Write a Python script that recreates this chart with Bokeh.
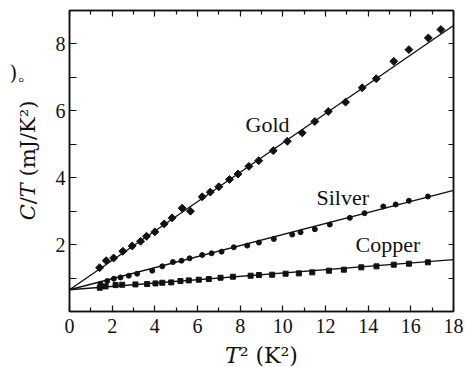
import math
from bokeh.plotting import figure
from bokeh.models import (Range1d, LinearAxis, FixedTicker,
                          Label, CustomJSTickFormatter)
from bokeh.embed import file_html
from bokeh.resources import INLINE

# ---- data: T^2 (K^2) and C/T (mJ/K^2) ----
gold_t2 = [1.41, 1.72, 2.07, 2.50, 2.94, 3.33, 3.61, 4.00, 4.44, 4.81, 5.28, 5.67,
           6.22, 6.60, 7.00, 7.50, 7.90, 8.41, 8.87, 9.55, 10.21, 10.91, 11.50,
           12.13, 12.94, 13.72, 14.38, 15.20, 15.91, 16.82, 17.41]
gold_ct = [1.31, 1.52, 1.60, 1.80, 1.96, 2.10, 2.25, 2.38, 2.62, 2.80, 3.09, 3.00,
           3.43, 3.57, 3.73, 3.95, 4.11, 4.34, 4.51, 4.81, 5.09, 5.34, 5.68,
           5.98, 6.26, 6.69, 6.96, 7.48, 7.83, 8.18, 8.43]

silver_t2 = [1.45, 1.77, 2.08, 2.39, 2.78, 3.17, 3.88, 4.35, 4.85, 5.25, 5.63, 6.22,
             6.66, 7.13, 7.70, 8.33, 8.88, 9.58, 10.44, 10.83, 11.50, 12.20, 13.14,
             13.83, 14.71, 15.29, 15.91, 16.80]
silver_ct = [0.83, 0.91, 0.98, 1.02, 1.07, 1.13, 1.22, 1.35, 1.48, 1.52, 1.59, 1.69,
             1.74, 1.79, 1.92, 1.97, 2.06, 2.17, 2.30, 2.37, 2.46, 2.60, 2.80,
             2.94, 3.14, 3.20, 3.31, 3.44]

copper_t2 = [1.42, 1.69, 2.16, 2.47, 3.09, 3.64, 4.03, 4.35, 4.77, 5.20, 5.59, 6.06,
             6.53, 7.08, 7.66, 8.49, 8.88, 9.50, 10.13, 10.75, 11.38, 12.16, 12.86,
             13.68, 14.39, 15.20, 15.91, 16.80]
copper_ct = [0.71, 0.75, 0.79, 0.80, 0.81, 0.82, 0.84, 0.86, 0.87, 0.91, 0.93, 0.95,
             0.97, 1.01, 1.04, 1.07, 1.09, 1.10, 1.13, 1.14, 1.17, 1.22, 1.25,
             1.32, 1.35, 1.40, 1.43, 1.47]

# fitted straight lines C/T = gamma + A*T^2
fit_gamma = 0.65
fit_slopes = {"Gold": 0.439, "Silver": 0.165, "Copper": 0.050}

x_ticks = [0, 2, 4, 6, 8, 10, 12, 14, 16, 18]
x_minor = [1, 3, 5, 7, 9, 11, 13, 15, 17]
y_ticks = [2, 4, 6, 8]
y_minor = [1, 3, 5, 7]
X_MIN, X_MAX = 0, 18
Y_MIN, Y_MAX = 0, 9

x_title = "\U0001D447\u00b2 (K\u00b2)"            # T^2 (K^2), T in math italic
y_title = "\U0001D436/\U0001D447 (mJ/K\u00b2)"    # C/T (mJ/K^2)
edge_text = ")\u3002"

SERIF = "Liberation Serif"
LAB = "DejaVu Serif"
INK = "#111111"

# frame in page pixels: left 69, right 453, top 10, bottom 311
p = figure(width=465, height=367,
           x_range=Range1d(X_MIN, X_MAX), y_range=Range1d(Y_MIN, Y_MAX),
           output_backend="svg", toolbar_location=None,
           min_border_left=69, min_border_right=12,
           min_border_top=10, min_border_bottom=56)
p.xgrid.grid_line_color = None
p.ygrid.grid_line_color = None
p.outline_line_color = INK
p.outline_line_width = 1.5
p.background_fill_color = "white"
p.border_fill_color = "white"

# fit lines
fx = [X_MIN, X_MAX]
for name in ["Gold", "Silver", "Copper"]:
    fy = [fit_gamma + fit_slopes[name] * x for x in fx]
    p.line(fx, fy, line_color=INK, line_width=1.4)

# data points
p.scatter(gold_t2, gold_ct, marker="square", angle=math.pi / 4, size=5.6,
          fill_color=INK, line_color=INK)
p.scatter(silver_t2, silver_ct, marker="circle", size=5,
          fill_color=INK, line_color=INK)
p.scatter(copper_t2, copper_ct, marker="square", size=5,
          fill_color=INK, line_color=INK)

# axes
xb = p.xaxis[0]
xb.ticker = FixedTicker(ticks=x_ticks, minor_ticks=x_minor)
yl = p.yaxis[0]
yl.ticker = FixedTicker(ticks=y_ticks, minor_ticks=y_minor)

empty = CustomJSTickFormatter(code="return ''")
xt = LinearAxis(ticker=FixedTicker(ticks=x_ticks, minor_ticks=x_minor),
                formatter=empty, major_label_text_font_size="0px", major_label_standoff=0)
yr = LinearAxis(ticker=FixedTicker(ticks=y_ticks, minor_ticks=y_minor),
                formatter=empty, major_label_text_font_size="0px", major_label_standoff=0)
p.add_layout(xt, "above")
p.add_layout(yr, "right")

for ax in [xb, yl, xt, yr]:
    ax.axis_line_color = INK
    ax.axis_line_width = 1.5
    ax.major_tick_line_color = INK
    ax.minor_tick_line_color = INK
    ax.major_tick_line_width = 1.2
    ax.minor_tick_line_width = 1.2
    ax.major_tick_out = 0
    ax.minor_tick_out = 0

for ax in [xb, xt]:
    ax.major_tick_in = 6
    ax.minor_tick_in = 4
yl.major_tick_in = 7
yl.minor_tick_in = 7
yr.major_tick_in = 5
yr.minor_tick_in = 5

for ax in [xb, yl]:
    ax.major_label_text_font = SERIF
    ax.major_label_text_font_size = "20px"
    ax.major_label_text_color = INK
xb.major_label_standoff = 7
yl.major_label_standoff = 4


def dx(px):
    return X_MIN + (px - 69) * (X_MAX - X_MIN) / 384.0


def dy(py):
    return Y_MIN + (311 - py) * (Y_MAX - Y_MIN) / 301.0


def make_label(text, px, py, font=SERIF, size="22px", angle=0.0, align="left"):
    return Label(x=dx(px), y=dy(py), text=text, text_font=font,
                 text_font_size=size, text_color=INK, angle=angle,
                 text_align=align, text_baseline="alphabetic")


# series names (inside the frame)
p.add_layout(make_label("Gold", 245, 124))
p.add_layout(make_label("Silver", 316, 197))
p.add_layout(make_label("Copper", 355, 244))

# axis titles, one label per side panel
p.add_layout(make_label(x_title, 261, 355, font=LAB, size="22px", align="center"), "below")
p.add_layout(make_label(y_title, 27, 160, font=LAB, size="21px", angle=math.pi / 2,
                        align="center"), "left")

# fragment of surrounding page text at the left edge
p.add_layout(make_label(edge_text, 9, 72, font=LAB, size="20px"), "left")

open("out.html", "w").write(file_html(p, INLINE))
